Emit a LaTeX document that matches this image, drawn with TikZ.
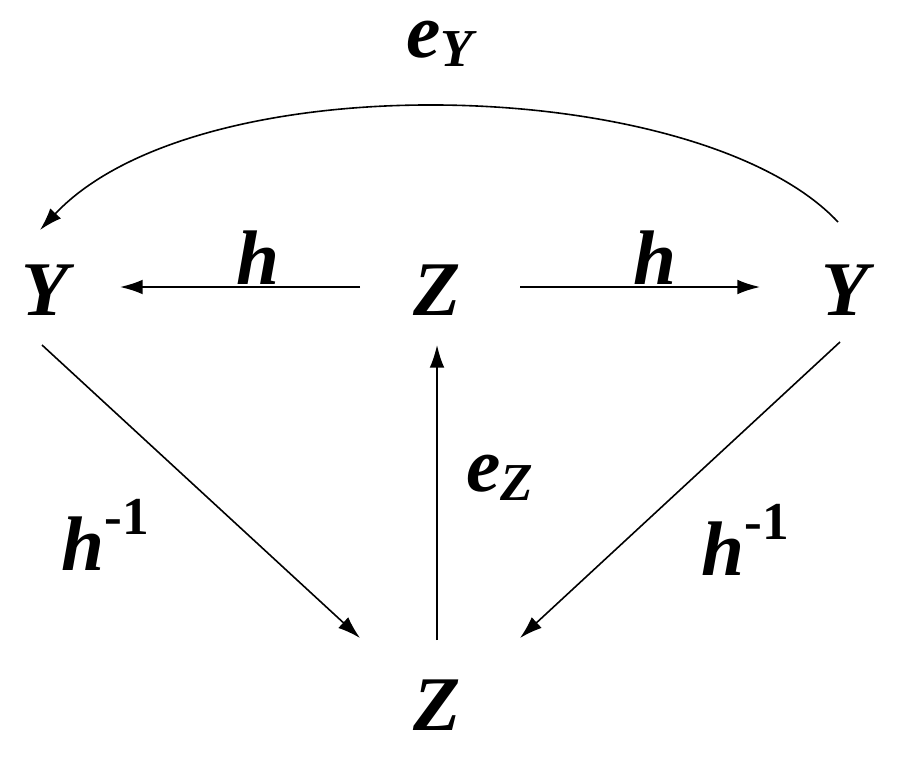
\documentclass[tikz,border=0pt]{standalone}
\usepackage{fontspec}
\setmainfont{Liberation Serif}
\usetikzlibrary{arrows.meta}
\begin{document}
\begin{tikzpicture}[x=0.75pt,y=-0.75pt,
  lbl/.style={font=\fontsize{58}{60}\selectfont\bfseries\itshape, inner sep=0pt},
  arr/.style={-{Latex[length=17pt,width=11pt]}, line width=1.2pt}]
\useasboundingbox (0,0) rectangle (906,763);
\node[lbl] (YL) at (45,290) {Y};
\node[lbl] (ZC) at (437,290) {Z};
\node[lbl] (YR) at (845,290) {Y};
\node[lbl] (ZB) at (437,705) {Z};
\node[lbl] (h1) at (258,258) {h};
\node[lbl] (h2) at (655,258) {h};
\node[lbl] (eY) at (440,44) {e\raisebox{-0.25ex}{\fontsize{40}{40}\selectfont Y}};
\node[lbl] (eZ) at (500,478) {e\raisebox{-0.25ex}{\fontsize{40}{40}\selectfont Z}};
\node[lbl] (hi1) at (105,535) {h\raisebox{1ex}{\fontsize{40}{40}\selectfont\upshape -1}};
\node[lbl] (hi2) at (745,540) {h\raisebox{1ex}{\fontsize{40}{40}\selectfont\upshape -1}};
\coordinate (a1) at (360,287); \coordinate (a2) at (120,287);
\coordinate (b1) at (520,287); \coordinate (b2) at (760,287);
\coordinate (c1) at (437,640); \coordinate (c2) at (437,345);
\coordinate (d1) at (42,345); \coordinate (d2) at (360,638);
\coordinate (f1) at (840,342); \coordinate (f2) at (520,638);
\coordinate (g1) at (838,222); \coordinate (g2) at (40,230);
\draw[arr] (a1) -- (a2);
\draw[arr] (b1) -- (b2);
\draw[arr] (c1) -- (c2);
\draw[arr] (d1) -- (d2);
\draw[arr] (f1) -- (f2);
\draw[arr] (g1) .. controls (700,75) and (200,60) .. (g2);
\end{tikzpicture}
\end{document}
